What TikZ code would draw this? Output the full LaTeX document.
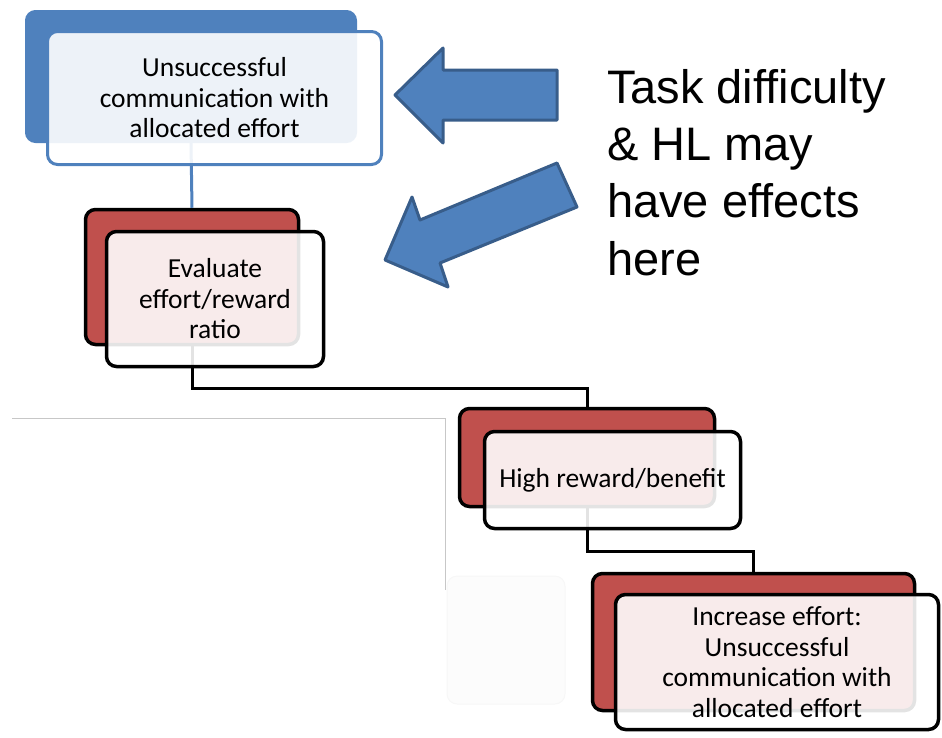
\documentclass[tikz,border=0pt]{standalone}
\usepackage{fontspec}
\setmainfont{Carlito}
\newfontfamily\notefont{Liberation Sans}
\definecolor{blueA}{HTML}{4F81BD}
\definecolor{blueB}{HTML}{385D8A}
\definecolor{redA}{HTML}{C0504D}
\begin{document}
\begin{tikzpicture}[x=1pt,y=-1pt,
  backblue/.style={rounded corners=10pt, line width=1pt, draw=blueA, fill=blueA, inner sep=0pt},
  frontblue/.style={rounded corners=10pt, line width=3pt, draw=blueA, fill=white, fill opacity=0.9, text opacity=1, inner sep=0pt, align=center, font=\fontsize{27.5}{30.5}\selectfont},
  backred/.style={rounded corners=10pt, line width=3.5pt, draw=black, fill=redA, inner sep=0pt},
  frontred/.style={rounded corners=10pt, line width=3.5pt, draw=black, fill=white, fill opacity=0.89, text opacity=1, inner sep=0pt, align=center, font=\fontsize{27.5}{30.5}\selectfont},
  linkblue/.style={line width=3pt, draw=blueA},
  linkblack/.style={line width=3pt, draw=black},
  bigarrow/.style={line width=3pt, draw=blueB, fill=blueA, line join=round},
  ghost/.style={line width=1pt, draw=black!22}
]
\useasboundingbox (0,0) rectangle (942,737);

% faint remnants
\draw[ghost] (12,418) -- (445,418) -- (445,590);
\node[rounded corners=10pt, fill=black!1, draw=black!3, line width=1pt, minimum width=118pt, minimum height=128pt, inner sep=0pt] (ghostbox) at (506,640) {};

% back boxes
\node[backblue, minimum width=331pt, minimum height=132pt] (b1) at (191,76.5) {};
\node[backred, minimum width=213pt, minimum height=135pt] (b2) at (192,277) {};
\node[backred, minimum width=255pt, minimum height=98pt] (b3) at (587,457.5) {};
\node[backred, minimum width=322pt, minimum height=137pt] (b4) at (753.5,642) {};

% connectors
\draw[linkblue] (b1.south) -- (b2.north);
\draw[linkblack] (b2.south) -- ++(0,42) -| (b3.north);
\draw[linkblack] (b3.south) -- ++(0,43) -| (b4.north);

% front boxes
\node[frontblue, minimum width=334pt, minimum height=133pt] (f1) at (214.5,98) {Unsuccessful\\communication with\\allocated effort};
\node[frontred, minimum width=217pt, minimum height=135pt] (f2) at (215,299) {Evaluate\\effort/reward\\ratio};
\node[frontred, minimum width=256pt, minimum height=97pt] (f3) at (612.5,480) {High reward/benefit};
\node[frontred, minimum width=323pt, minimum height=135pt] (f4) at (777,662) {Increase effort:\\Unsuccessful\\communication with\\allocated effort};

% big arrows
\draw[bigarrow] (395,95) -- (443,48) -- (443,70) -- (557,70) -- (557,120) -- (443,120) -- (443,143) -- cycle;
\draw[bigarrow] (385,260) -- (412,197) -- (420,220) -- (557,163) -- (577,207) -- (440,263) -- (448,287) -- cycle;

% note
\node[anchor=north west, inner sep=0pt, align=left, font=\notefont\fontsize{47}{57.3}\selectfont] (note) at (607,69) {Task difficulty\\\& HL may\\have effects\\here};
\end{tikzpicture}
\end{document}
